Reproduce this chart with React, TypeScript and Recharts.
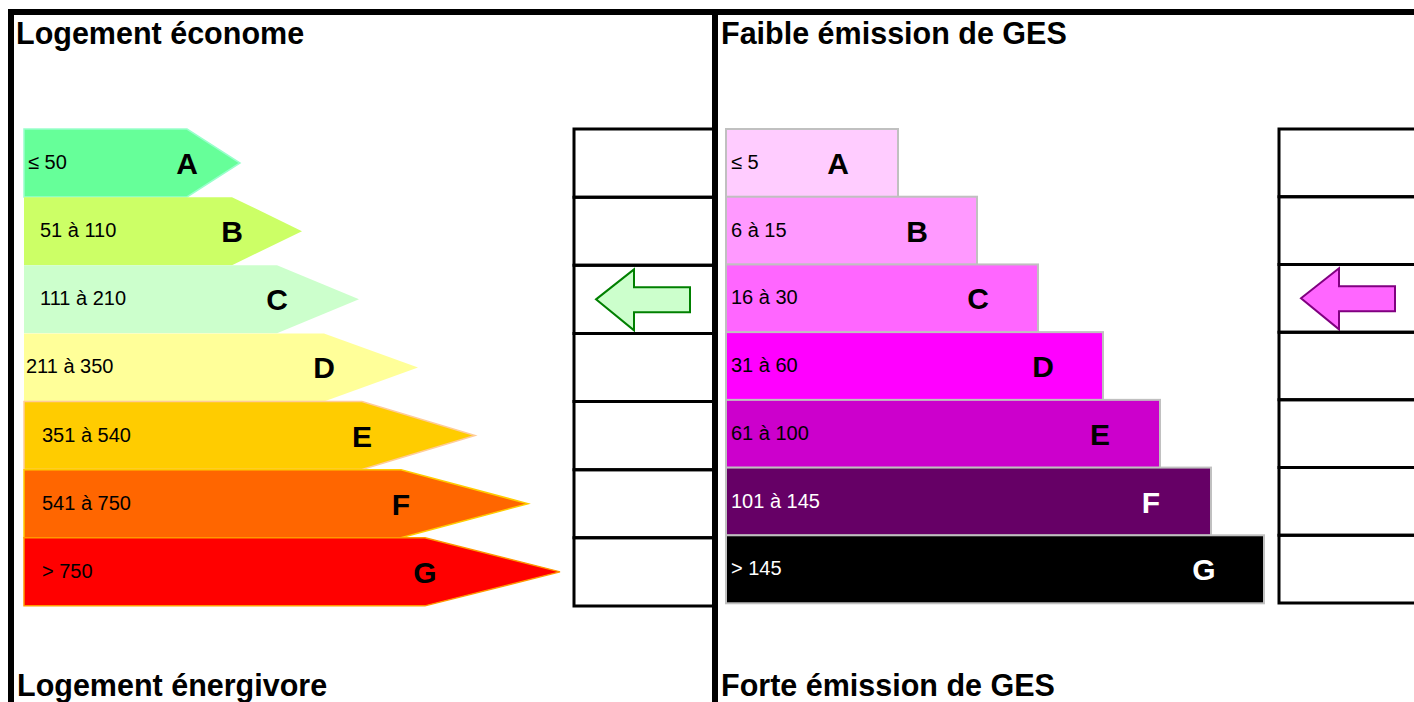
import React from 'react';
import { BarChart, Bar, XAxis, YAxis, LabelList, ReferenceArea } from 'recharts';

// classes, shared by both scales
const grades = ['A', 'B', 'C', 'D', 'E', 'F', 'G'];

// energy consumption (kWhEP/m².an)
const energyRanges = ['≤ 50', '51 à 110', '111 à 210', '211 à 350', '351 à 540', '541 à 750', '> 750'];
const energyTips = [216, 278, 335, 394, 451, 504, 536];
const energyBodies = [163, 208, 253, 300, 338, 377, 401];
const energyClass = 'C';

// greenhouse gas emissions (kgeqCO2/m².an)
const gesRanges = ['≤ 5', '6 à 15', '16 à 30', '31 à 60', '61 à 100', '101 à 145', '> 145'];
const gesValues = [172, 251, 312, 377, 434, 485, 538];
const gesClass = 'C';

const energyColors = ['#66ff99', '#ccff66', '#ccffcc', '#ffff99', '#ffcc00', '#ff6600', '#ff0000'];
const energyStrokes = ['#99ffcc', 'none', 'none', 'none', '#ffcc99', '#ffcc00', '#ff9900'];
const gesColors = ['#ffccff', '#ff99ff', '#ff66ff', '#ff00ff', '#cc00cc', '#660066', '#000000'];
const gesText = ['#000', '#000', '#000', '#000', '#000', '#fff', '#fff'];
const rangeIndent = [4, 16, 16, 2, 18, 18, 18];

const FONT = "'Liberation Sans', Arial, sans-serif";

const energyData = grades.map((g, i) => ({ grade: g, range: energyRanges[i], value: energyTips[i] }));
const gesData = grades.map((g, i) => ({ grade: g, range: gesRanges[i], value: gesValues[i] }));

const rectOf = (p: any) => (p.viewBox && p.viewBox.width !== undefined ? p.viewBox : p);

const EnergyArrow = (props: any) => {
  const { x, y, width, height, index } = props;
  const body = x + (width * energyBodies[index]) / energyTips[index];
  const tip = x + width;
  const mid = y + height / 2;
  return (
    <polygon
      points={`${x},${y} ${body},${y} ${tip},${mid} ${body},${y + height} ${x},${y + height}`}
      fill={energyColors[index]}
      stroke={energyStrokes[index]}
      strokeWidth={1.5}
    />
  );
};

const GesBar = (props: any) => {
  const { x, y, width, height, index } = props;
  return <rect x={x} y={y} width={width} height={height} fill={gesColors[index]} stroke="#c0c0c0" strokeWidth={2} />;
};

const energyRange = (props: any) => {
  const r = rectOf(props);
  const i = props.index;
  return (
    <text x={r.x + rangeIndent[i]} y={r.y + r.height / 2} dy={6} fontSize={20} fontFamily={FONT} fill="#000">
      {props.value}
    </text>
  );
};

const energyLetter = (props: any) => {
  const r = rectOf(props);
  const i = props.index;
  const body = r.x + (r.width * energyBodies[i]) / energyTips[i];
  return (
    <text x={body} y={r.y + r.height / 2} dy={11} fontSize={30} fontWeight="bold" fontFamily={FONT} textAnchor="middle" fill="#000">
      {props.value}
    </text>
  );
};

const gesRange = (props: any) => {
  const r = rectOf(props);
  const i = props.index;
  return (
    <text x={r.x + 5} y={r.y + r.height / 2} dy={6} fontSize={20} fontFamily={FONT} fill={gesText[i]}>
      {props.value}
    </text>
  );
};

const gesLetter = (props: any) => {
  const r = rectOf(props);
  const i = props.index;
  return (
    <text x={r.x + r.width - 60} y={r.y + r.height / 2} dy={11} fontSize={30} fontWeight="bold" fontFamily={FONT} textAnchor="middle" fill={gesText[i]}>
      {props.value}
    </text>
  );
};

// one cell of the "logement" column, with the left arrow on the chosen class
const makeCell = (selected: boolean, fill: string, stroke: string) => (props: any) => {
  const { x, y, width, height } = props;
  const cy = y + height / 2;
  const t = x + 22;
  return (
    <g>
      <path d={`M${x + width},${y} H${x} V${y + height} H${x + width}`} fill="none" stroke="#000" strokeWidth={3} />
      {selected && (
        <polygon
          points={`${t},${cy} ${t + 38},${cy - 30} ${t + 38},${cy - 12} ${t + 94},${cy - 12} ${t + 94},${cy + 13} ${t + 38},${cy + 13} ${t + 38},${cy + 31}`}
          fill={fill}
          stroke={stroke}
          strokeWidth={2}
        />
      )}
    </g>
  );
};

const App: React.FC = () => {
  return (
    <div style={{ position: 'absolute', left: 0, top: 0, width: 1414, height: 702, overflow: 'hidden', background: '#fff' }}>
      <div style={{ position: 'absolute', left: 0, top: 0 }}>
        <BarChart width={714} height={702} data={energyData} layout="vertical" barCategoryGap={0}
          margin={{ top: 129, right: 0, bottom: 96, left: 24 }}>
          <XAxis type="number" domain={[0, 690]} hide />
          <YAxis type="category" dataKey="grade" hide />
          {grades.map((g, i) => (
            <ReferenceArea key={g} x1={550} x2={690} y1={g} y2={g} ifOverflow="visible"
              shape={makeCell(g === energyClass, energyColors[i], '#008000')} />
          ))}
          <Bar dataKey="value" shape={EnergyArrow} isAnimationActive={false}>
            <LabelList dataKey="range" content={energyRange} />
            <LabelList dataKey="grade" content={energyLetter} />
          </Bar>
        </BarChart>
      </div>
      <div style={{ position: 'absolute', left: 714, top: 0 }}>
        <BarChart width={700} height={702} data={gesData} layout="vertical" barCategoryGap={0}
          margin={{ top: 129, right: 0, bottom: 99, left: 12 }}>
          <XAxis type="number" domain={[0, 688]} hide />
          <YAxis type="category" dataKey="grade" hide />
          {grades.map((g, i) => (
            <ReferenceArea key={g} x1={553} x2={688} y1={g} y2={g} ifOverflow="visible"
              shape={makeCell(g === gesClass, gesColors[i], '#800080')} />
          ))}
          <Bar dataKey="value" shape={GesBar} isAnimationActive={false}>
            <LabelList dataKey="range" content={gesRange} />
            <LabelList dataKey="grade" content={gesLetter} />
          </Bar>
        </BarChart>
      </div>
      <svg width={1414} height={702} style={{ position: 'absolute', left: 0, top: 0, pointerEvents: 'none' }}>
        <rect x={8} y={9} width={1406} height={6} fill="#000" />
        <rect x={8} y={9} width={6} height={693} fill="#000" />
        <rect x={712} y={9} width={6} height={693} fill="#000" />
        <g fontFamily={FONT} fontWeight="bold" fontSize={30.5} fill="#000">
          <text x={16} y={44}>Logement économe</text>
          <text x={17} y={696}>Logement énergivore</text>
          <text x={721} y={44}>Faible émission de GES</text>
          <text x={721} y={696}>Forte émission de GES</text>
        </g>
      </svg>
    </div>
  );
};

export default App;
